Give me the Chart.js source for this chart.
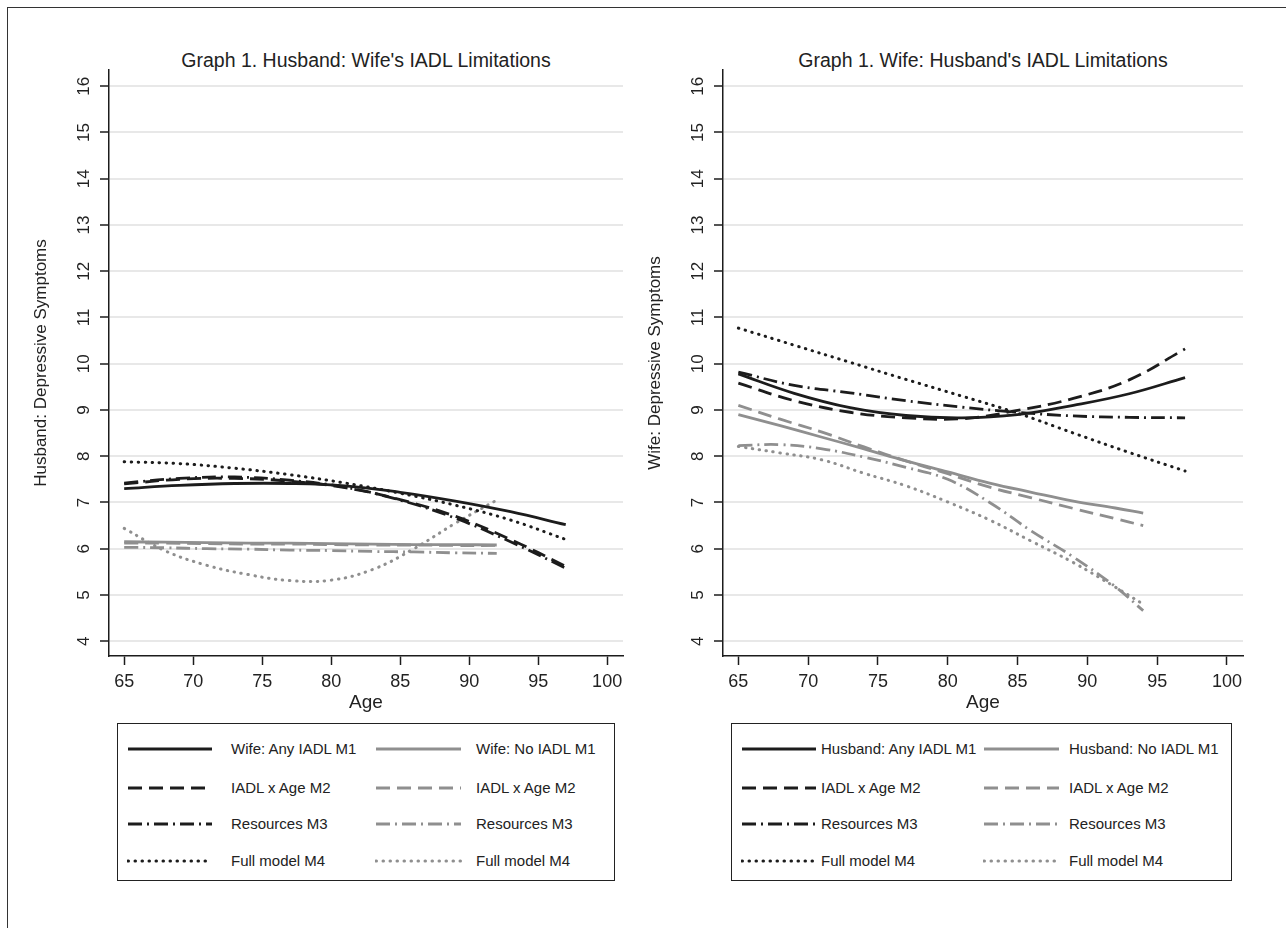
<!DOCTYPE html>
<html>
<head>
<meta charset="utf-8">
<script src="https://cdn.jsdelivr.net/npm/chart.js@4.4.1/dist/chart.umd.min.js"></script>
<style>
  body { margin: 0; background: #fff; width: 1286px; height: 928px; overflow: hidden; position: relative;
         font-family: "Liberation Sans", Arial, sans-serif; color: #222; }
  #frame { position: absolute; left: 7px; top: 7px; width: 1300px; height: 940px;
           border-left: 1.5px solid #333; border-top: 1.5px solid #333; }
  .title { position: absolute; top: 49px; height: 22px; line-height: 22px; font-size: 19.5px;
           text-align: center; white-space: nowrap; }
  canvas { position: absolute; top: 0; }
  .legend { position: absolute; top: 723px; height: 158px; border: 1.5px solid #222; box-sizing: border-box; }
  .legend span { position: absolute; font-size: 15px; line-height: 18px; white-space: nowrap; }
  .legend canvas { position: absolute; }
</style>
</head>
<body>
<div id="frame"></div>
<div class="title" style="left:109px; width:514px;">Graph 1. Husband: Wife's IADL Limitations</div>
<div class="title" style="left:723px; width:520px;">Graph 1. Wife: Husband's IADL Limitations</div>
<canvas id="leftChart" width="660" height="720" style="left:0px"></canvas>
<canvas id="rightChart" width="660" height="720" style="left:614px"></canvas>
<div class="legend" id="leftLegend" style="left:117px; width:498px;"></div>
<div class="legend" id="rightLegend" style="left:731px; width:501px;"></div>

<script>
// axis ticks
const xTickLabels = [65, 70, 75, 80, 85, 90, 95, 100];
const yTickLabels = [4, 5, 6, 7, 8, 9, 10, 11, 12, 13, 14, 15, 16];

// legend labels
const modelLabels = ["IADL x Age M2", "Resources M3", "Full model M4"];
const leftBlackLabels = ["Wife: Any IADL M1", ...modelLabels];
const leftGrayLabels = ["Wife: No IADL M1", ...modelLabels];
const rightBlackLabels = ["Husband: Any IADL M1", ...modelLabels];
const rightGrayLabels = ["Husband: No IADL M1", ...modelLabels];

// left panel: husband's symptoms by wife's IADL
const leftAgesBlack = [65, 69, 73, 77, 81, 85, 89, 93, 97];
const leftBlackM1 = [7.30, 7.37, 7.41, 7.41, 7.36, 7.22, 7.03, 6.80, 6.52];
const leftBlackM2 = [7.40, 7.50, 7.52, 7.46, 7.32, 7.06, 6.70, 6.20, 5.62];
const leftBlackM3 = [7.42, 7.52, 7.55, 7.48, 7.33, 7.05, 6.66, 6.15, 5.58];
const leftBlackM4 = [7.88, 7.84, 7.74, 7.60, 7.42, 7.20, 6.94, 6.62, 6.20];

const leftAgesGray = [65, 68, 71, 74, 77, 80, 83, 86, 89, 92];
const leftGrayM1 = [6.15, 6.14, 6.13, 6.12, 6.12, 6.11, 6.10, 6.09, 6.09, 6.08];
const leftGrayM2 = [6.12, 6.12, 6.11, 6.10, 6.10, 6.09, 6.08, 6.08, 6.07, 6.07];
const leftGrayM3 = [6.03, 6.02, 6.00, 5.99, 5.97, 5.96, 5.94, 5.93, 5.91, 5.90];
const leftGrayM4 = [6.44, 5.95, 5.64, 5.44, 5.31, 5.32, 5.55, 6.00, 6.55, 7.05];

// right panel: wife's symptoms by husband's IADL
const rightAgesBlack = [65, 69, 73, 77, 81, 85, 89, 93, 97];
const rightBlackM1 = [9.78, 9.36, 9.05, 8.88, 8.83, 8.90, 9.10, 9.35, 9.70];
const rightBlackM2 = [9.58, 9.20, 8.95, 8.83, 8.81, 8.99, 9.25, 9.65, 10.32];
const rightBlackM3 = [9.82, 9.53, 9.37, 9.20, 9.06, 8.95, 8.87, 8.84, 8.83];
const rightBlackM4 = [10.77, 10.40, 10.03, 9.66, 9.30, 8.93, 8.50, 8.08, 7.68];

const rightAgesGray = [65, 68, 71, 74, 77, 80, 83, 86, 89, 92, 94];
const rightGrayM1 = [8.90, 8.66, 8.41, 8.16, 7.90, 7.66, 7.42, 7.22, 7.03, 6.88, 6.77];
const rightGrayM2 = [9.10, 8.80, 8.52, 8.20, 7.90, 7.62, 7.33, 7.10, 6.87, 6.65, 6.50];
const rightGrayM3 = [8.23, 8.25, 8.16, 7.98, 7.76, 7.50, 7.00, 6.38, 5.82, 5.18, 4.66];
const rightGrayM4 = [8.21, 8.07, 7.92, 7.63, 7.36, 7.01, 6.62, 6.16, 5.70, 5.17, 4.80];

const BLACK = "#1c1c1c";
const GRAY = "#8f8f8f";
const FONT = "'Liberation Sans', Arial, sans-serif";
const dashes = [[], [14, 7], [14, 5, 2, 5], [0.5, 6.5]];

function points(ages, vals) {
    return ages.map((a, i) => ({ x: a, y: vals[i] }));
}

function makeSet(label, ages, vals, color, model) {
    const dotted = model === 3;
    return {
        label: label,
        data: points(ages, vals),
        borderColor: color,
        borderWidth: dotted ? 3 : 2.8,
        borderDash: dashes[model],
        borderCapStyle: dotted ? "round" : "butt",
        pointRadius: 0,
        tension: 0.4,
        fill: false
    };
}

function buildChart(id, yTitle, sets) {
    const padRight = id === "leftChart" ? 37 : 31;
    return new Chart(document.getElementById(id), {
        type: "line",
        data: { datasets: sets },
        options: {
            responsive: false,
            animation: false,
            layout: { padding: { left: 0, top: 70, right: padRight, bottom: 0 } },
            plugins: { legend: { display: false }, tooltip: { enabled: false } },
            scales: {
                x: {
                    type: "linear", min: 63.9, max: 101.15,
                    afterBuildTicks: s => { s.ticks = xTickLabels.map(v => ({ value: v })); },
                    afterFit: s => { s.height = 64; },
                    grid: { drawOnChartArea: false, tickLength: 9, tickColor: BLACK, tickWidth: 1.5 },
                    border: { color: BLACK, width: 1.5 },
                    ticks: { font: { size: 18, family: FONT }, color: "#222", padding: 6, maxRotation: 0, autoSkip: false },
                    title: { display: true, text: "Age", font: { size: 19, family: FONT }, color: "#222", padding: { top: 0, bottom: 6 } }
                },
                y: {
                    type: "linear", min: 3.68, max: 16.35,
                    afterBuildTicks: s => { s.ticks = yTickLabels.map(v => ({ value: v })); },
                    afterFit: s => { s.width = 109; },
                    grid: { color: "#e8e8e8", lineWidth: 2, tickLength: 9, tickColor: BLACK, tickWidth: 1.5 },
                    border: { color: BLACK, width: 1.5 },
                    ticks: { font: { size: 17, family: FONT }, color: "#222", padding: 6.5, minRotation: 90, maxRotation: 90,
                             crossAlign: "center", autoSkip: false },
                    title: { display: true, text: yTitle, font: { size: 17, family: FONT }, color: "#222", padding: { top: 31, bottom: 0 } }
                }
            }
        }
    });
}

function panelSets(blackLabels, grayLabels, agesB, blacks, agesG, grays) {
    const sets = [];
    for (let m = 0; m < 4; m++) {
        sets.push(makeSet(blackLabels[m], agesB, blacks[m], BLACK, m));
        sets.push(makeSet(grayLabels[m], agesG, grays[m], GRAY, m));
    }
    return sets;
}

const leftChart = buildChart("leftChart", "Husband: Depressive Symptoms",
    panelSets(leftBlackLabels, leftGrayLabels,
        leftAgesBlack, [leftBlackM1, leftBlackM2, leftBlackM3, leftBlackM4],
        leftAgesGray, [leftGrayM1, leftGrayM2, leftGrayM3, leftGrayM4]));

const rightChart = buildChart("rightChart", "Wife: Depressive Symptoms",
    panelSets(rightBlackLabels, rightGrayLabels,
        rightAgesBlack, [rightBlackM1, rightBlackM2, rightBlackM3, rightBlackM4],
        rightAgesGray, [rightGrayM1, rightGrayM2, rightGrayM3, rightGrayM4]));

// two-column legend in a box, built from the datasets
function buildLegend(boxId, chart, cols) {
    const box = document.getElementById(boxId);
    const rowY = [25, 64, 100, 137];
    chart.data.datasets.forEach((ds, i) => {
        const row = Math.floor(i / 2);
        const col = cols[i % 2];
        const c = document.createElement("canvas");
        c.width = col.w; c.height = 10;
        c.style.left = col.line + "px";
        c.style.top = (rowY[row] - 5) + "px";
        const ctx = c.getContext("2d");
        ctx.strokeStyle = ds.borderColor;
        ctx.lineWidth = ds.borderWidth;
        ctx.lineCap = ds.borderCapStyle;
        ctx.setLineDash(ds.borderDash);
        ctx.beginPath(); ctx.moveTo(1, 5); ctx.lineTo(col.w - 1, 5); ctx.stroke();
        box.appendChild(c);
        const sp = document.createElement("span");
        sp.textContent = ds.label;
        sp.style.left = col.text + "px";
        sp.style.top = (rowY[row] - 9) + "px";
        box.appendChild(sp);
    });
}

buildLegend("leftLegend", leftChart, [{ line: 9, w: 86, text: 113 }, { line: 257, w: 87, text: 358 }]);
buildLegend("rightLegend", rightChart, [{ line: 9, w: 76, text: 89 }, { line: 251, w: 77, text: 337 }]);
</script>
</body>
</html>
